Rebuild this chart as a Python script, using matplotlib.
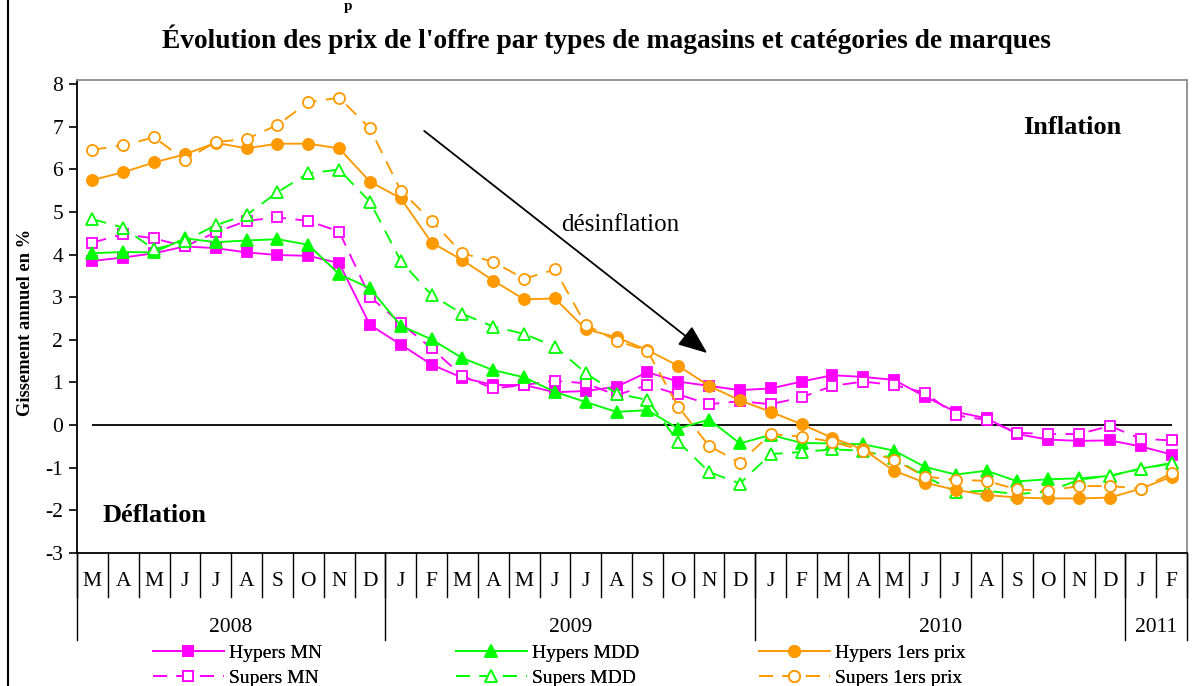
import numpy as np
import matplotlib
matplotlib.use("Agg")
import matplotlib.pyplot as plt
from matplotlib.patches import Rectangle
from matplotlib.transforms import blended_transform_factory

# ---------------- data ----------------
months = ["M", "A", "M", "J", "J", "A", "S", "O", "N", "D",
          "J", "F", "M", "A", "M", "J", "J", "A", "S", "O", "N", "D",
          "J", "F", "M", "A", "M", "J", "J", "A", "S", "O", "N", "D",
          "J", "F"]
years = ["2008", "2009", "2010", "2011"]
year_counts = [10, 12, 12, 2]

hypers_mn = [3.85, 3.93, 4.03, 4.19, 4.15, 4.05, 3.99, 3.97, 3.80, 2.35,
             1.89, 1.42, 1.11, 0.94, 0.94, 0.77, 0.80, 0.90, 1.24, 1.02, 0.92, 0.82,
             0.86, 1.02, 1.17, 1.13, 1.06, 0.67, 0.31, 0.16, -0.21, -0.34, -0.37, -0.36,
             -0.50, -0.69]
supers_mn = [4.28, 4.48, 4.38, 4.19, 4.52, 4.79, 4.87, 4.79, 4.54, 3.01,
             2.39, 1.80, 1.15, 0.86, 0.94, 1.04, 0.98, 0.70, 0.94, 0.72, 0.49, 0.56,
             0.49, 0.65, 0.92, 1.02, 0.94, 0.76, 0.23, 0.12, -0.18, -0.21, -0.21, -0.02,
             -0.32, -0.36]
hypers_mdd = [4.03, 4.06, 4.05, 4.38, 4.29, 4.33, 4.36, 4.23, 3.54, 3.21,
              2.33, 2.01, 1.57, 1.29, 1.12, 0.78, 0.54, 0.31, 0.35, -0.08, 0.13, -0.43,
              -0.23, -0.42, -0.43, -0.45, -0.60, -0.98, -1.16, -1.07, -1.32, -1.27, -1.25, -1.19,
              -1.02, -0.89]
supers_mdd = [4.83, 4.63, 4.12, 4.32, 4.69, 4.93, 5.46, 5.91, 5.99, 5.24,
              3.85, 3.05, 2.61, 2.31, 2.14, 1.84, 1.22, 0.74, 0.59, -0.39, -1.10, -1.37,
              -0.68, -0.63, -0.57, -0.60, -0.78, -1.20, -1.57, -1.54, -1.62, -1.56, -1.28, -1.19,
              -1.03, -0.90]
hypers_1p = [5.75, 5.93, 6.16, 6.35, 6.62, 6.49, 6.60, 6.60, 6.49, 5.71,
             5.32, 4.28, 3.87, 3.39, 2.95, 2.97, 2.25, 2.06, 1.76, 1.39, 0.92, 0.58,
             0.31, 0.02, -0.30, -0.57, -1.07, -1.35, -1.52, -1.64, -1.70, -1.72, -1.72, -1.70,
             -1.49, -1.21]
supers_1p = [6.46, 6.56, 6.75, 6.22, 6.64, 6.71, 7.04, 7.57, 7.68, 6.96,
             5.50, 4.79, 4.03, 3.83, 3.43, 3.65, 2.35, 1.98, 1.74, 0.43, -0.49, -0.88,
             -0.21, -0.27, -0.39, -0.60, -0.81, -1.21, -1.28, -1.31, -1.51, -1.54, -1.43, -1.43,
             -1.49, -1.13]

labels = ["Hypers MN", "Supers MN", "Hypers MDD", "Supers MDD",
          "Hypers 1ers prix", "Supers 1ers prix"]
series = [hypers_mn, supers_mn, hypers_mdd, supers_mdd, hypers_1p, supers_1p]

# ---------------- styles ----------------
MAG, GRN, ORG = "#FF00FF", "#00FF00", "#FF9900"
styles = [
    dict(color=MAG, marker="s", mfc=MAG, ls="-", ms=7.5),
    dict(color=MAG, marker="s", mfc="white", ls="--", ms=7.5),
    dict(color=GRN, marker="^", mfc=GRN, ls="-", ms=8.5),
    dict(color=GRN, marker="^", mfc="white", ls="--", ms=8.5),
    dict(color=ORG, marker="o", mfc=ORG, ls="-", ms=8),
    dict(color=ORG, marker="o", mfc="white", ls="--", ms=8),
]

serif = ["Liberation Serif", "DejaVu Serif"]
plt.rcParams["font.family"] = serif
plt.rcParams["axes.unicode_minus"] = False

W, H = 1200, 686
fig = plt.figure(figsize=(W / 100, H / 100), dpi=100)
ax_l, ax_r, ax_t, ax_b = 77, 1187, 80, 553
ax = fig.add_axes([ax_l / W, 1 - ax_b / H, (ax_r - ax_l) / W, (ax_b - ax_t) / H])

x = np.arange(len(months))
handles = []
for vals, lab, st in zip(series, labels, styles):
    kw = dict(color=st["color"], marker=st["marker"], markersize=st["ms"],
              markerfacecolor=st["mfc"], markeredgecolor=st["color"],
              markeredgewidth=1.3, linewidth=1.35, label=lab, clip_on=False)
    if st["ls"] == "--":
        kw["dashes"] = (7.5, 5)
    (ln,) = ax.plot(x, vals, **kw)
    handles.append(ln)

ax.set_xlim(-0.5, len(months) - 0.5)
ymin = -3
ymax = 8 + 4 / 42.6
ax.set_ylim(ymin, ymax)
ax.set_yticks(range(-3, 9))
ax.tick_params(axis="y", direction="out", length=6, width=1.2, pad=4,
               labelsize=15.5)
ax.set_xticks([])
for s in ["left", "bottom"]:
    ax.spines[s].set_color("black")
    ax.spines[s].set_linewidth(1.3)
for s in ["top", "right"]:
    ax.spines[s].set_color("#8c8c8c")
    ax.spines[s].set_linewidth(1.3)

# zero line
ax.hlines(0, 0, len(months) - 1, color="black", lw=1.3, zorder=1)

# category axis (months + years)
tr = blended_transform_factory(ax.transData, ax.transAxes)
ah = ax_b - ax_t
m_depth = -44 / ah
y_depth = -87 / ah
for i, m in enumerate(months):
    ax.text(i, -29 / ah, m, transform=tr, ha="center", va="center",
            fontsize=15.5)
for b in np.arange(-0.5, len(months), 1.0):
    ax.plot([b, b], [0, m_depth], transform=tr, color="black", lw=1.0,
            clip_on=False)
bounds = np.concatenate([[0], np.cumsum(year_counts)]) - 0.5
for b in bounds:
    ax.plot([b, b], [0, y_depth], transform=tr, color="black", lw=1.0,
            clip_on=False)
for yr, a, b in zip(years, bounds[:-1], bounds[1:]):
    ax.text((a + b) / 2, -74 / ah, yr, transform=tr, ha="center",
            va="center", fontsize=15.5)

# annotations
ax.text(31.77, 6.97, "Inflation", ha="center", va="center", fontsize=19,
        fontweight="bold")
ax.text(2.01, -2.11, "Déflation", ha="center", va="center", fontsize=19,
        fontweight="bold")
ax.text(17.12, 4.69, "désinflation", ha="center", va="center", fontsize=18)
ax.annotate("", xy=(19.94, 1.69), xytext=(10.76, 6.90),
            arrowprops=dict(arrowstyle="-|>,head_length=1.0,head_width=0.4",
                            mutation_scale=18, color="black", lw=1.3,
                            shrinkA=0, shrinkB=0))

ax.set_ylabel("Gissement annuel en %", fontsize=13.3, fontweight="bold")
ax.yaxis.set_label_coords(-(ax_l - 34) / (ax_r - ax_l), (ax_b - 322) / ah)

# title
fig.text(606 / W, 1 - 48 / H,
         "Évolution des prix de l'offre par types de magasins et catégories de marques",
         ha="center", va="baseline", fontsize=19.8, fontweight="bold")
fig.text(348 / W, 1.0, "p", ha="center", va="top", fontsize=11,
         fontweight="bold")

# outer frame
fig.add_artist(Rectangle((8 / W, -0.1), 1.2, 1.1 + (1 - 13 / H),
                         transform=fig.transFigure, fill=False,
                         edgecolor="black", lw=1.5))

# legends (three columns)
col_x = [153, 456, 759]
fs = 14
for k, cx in enumerate(col_x):
    lg = fig.legend(handles=handles[2 * k:2 * k + 2], loc="center left",
                    bbox_to_anchor=(cx / W, 1 - 665.5 / H), frameon=False,
                    fontsize=fs, handlelength=71 / (fs * 1.389),
                    handletextpad=5 / (fs * 1.389), borderpad=0,
                    borderaxespad=0, labelspacing=0.38)
    fig.add_artist(lg)

fig.savefig("out.png", dpi=100)
